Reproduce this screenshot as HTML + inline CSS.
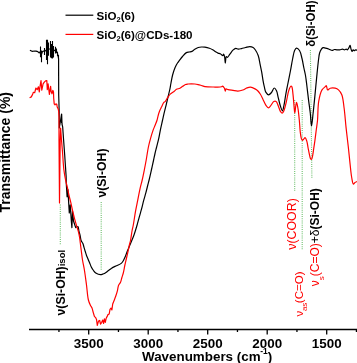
<!DOCTYPE html>
<html><head><meta charset="utf-8">
<style>
html,body{margin:0;padding:0;background:#fff;}
body{width:357px;height:363px;overflow:hidden;}
svg{display:block;will-change:transform;}
text{font-family:"Liberation Sans", sans-serif;}
.tk{font-size:13.4px;font-weight:bold;fill:#000;}
.lg{font-size:11.6px;font-weight:bold;fill:#000;}
.ax{font-size:13.4px;font-weight:bold;fill:#000;}
.ay{font-size:14px;font-weight:bold;fill:#000;}
.bk{font-size:12.3px;font-weight:bold;fill:#000;}
.rd{font-size:12px;fill:#f00;}
.rd3{font-size:12.4px;fill:#f00;}
.rd2{font-size:11.6px;fill:#f00;}
</style></head><body>
<svg width="357" height="363" viewBox="0 0 357 363">
<g stroke="#6cbf6c" stroke-width="1.1" stroke-dasharray="1 1.15" fill="none">
<line x1="60.3" y1="204.5" x2="60.3" y2="244.7"/>
<line x1="101.2" y1="202" x2="101.2" y2="270"/>
<line x1="294.7" y1="100" x2="294.7" y2="191"/>
<line x1="302.2" y1="100" x2="302.2" y2="250"/>
<line x1="310.4" y1="50" x2="311.9" y2="178.5"/>
</g>
<path d="M29.90,50.30 L32.00,51.30 L34.80,51.00 L36.00,51.20 L37.80,51.60 L39.10,52.90 L40.00,52.00 L41.20,55.00 L42.50,51.50 L43.50,51.00 L44.40,51.50 L46.40,50.00 L47.50,52.00 L48.70,49.00 L50.20,49.00 L51.30,50.00 L52.30,49.00 L53.60,51.00 L55.20,50.00 L56.50,51.00 L57.60,54.00 L58.30,57.00 L58.60,59.00 L58.60,66.00 L58.70,95.00 L59.20,112.00 L59.30,128.00 L61.60,114.00 L62.00,124.00 L62.70,127.20 L63.60,140.00 L64.70,155.00 L65.50,167.00 L66.10,176.00 L66.30,184.00 L67.10,196.80 L67.90,189.60 L69.30,212.90 L70.20,204.80 L71.40,222.00 L71.90,227.60 L72.50,211.00 L73.50,221.00 L75.70,227.60 C76.43,227.23 77.36,226.24 77.90,226.50 C78.67,226.87 78.61,229.95 79.00,231.50 C79.35,232.86 79.76,233.91 80.10,235.30 C80.50,236.96 80.61,239.33 81.20,240.80 C81.64,241.91 82.45,242.48 82.90,243.50 C83.41,244.65 83.63,246.13 84.00,247.40 C84.36,248.63 84.71,249.73 85.10,251.00 C85.54,252.42 86.00,254.18 86.50,255.50 C86.91,256.59 87.35,257.35 87.80,258.40 C88.34,259.65 88.93,261.10 89.50,262.50 C90.10,263.96 90.60,265.62 91.30,267.00 C91.95,268.27 92.67,269.44 93.50,270.50 C94.31,271.53 95.10,272.61 96.20,273.30 C97.37,274.04 99.16,274.66 100.40,274.70 C101.37,274.73 102.12,274.35 103.00,274.00 C103.99,273.61 105.07,273.00 106.00,272.40 C106.90,271.83 107.62,271.16 108.50,270.50 C109.48,269.77 110.41,268.94 111.60,268.20 C113.02,267.32 114.88,266.51 116.50,265.70 C118.08,264.91 120.02,264.36 121.20,263.40 C122.15,262.63 122.66,261.73 123.30,260.70 C124.04,259.51 124.66,258.09 125.30,256.60 C126.03,254.89 126.66,252.87 127.40,251.00 C128.16,249.10 129.04,247.12 129.80,245.30 C130.50,243.63 131.12,242.16 131.80,240.50 C132.52,238.73 133.25,237.12 134.00,235.00 C135.00,232.18 136.18,228.17 137.10,225.00 C137.92,222.17 138.56,219.56 139.30,216.90 C140.02,214.30 140.79,211.86 141.50,209.20 C142.26,206.37 142.94,203.23 143.70,200.40 C144.41,197.74 145.22,195.27 145.90,192.70 C146.58,190.14 147.22,187.29 147.80,185.00 C148.27,183.15 148.62,181.96 149.10,180.00 C149.78,177.24 150.65,173.34 151.40,170.00 C152.15,166.67 152.95,162.98 153.60,160.00 C154.12,157.60 154.51,155.62 155.00,153.50 C155.48,151.46 155.95,149.69 156.50,147.50 C157.16,144.85 158.05,141.64 158.70,138.70 C159.35,135.78 159.77,132.92 160.40,129.90 C161.07,126.69 162.01,122.69 162.60,120.00 C163.00,118.15 163.18,117.14 163.60,115.30 C164.21,112.64 165.25,108.74 166.00,105.60 C166.71,102.65 167.35,99.77 168.00,97.00 C168.61,94.41 169.30,91.87 169.80,89.50 C170.25,87.39 170.48,85.67 170.90,83.50 C171.40,80.91 171.88,77.73 172.60,75.00 C173.29,72.37 174.17,69.55 175.10,67.40 C175.84,65.70 176.71,64.22 177.50,63.00 C178.11,62.05 178.61,61.50 179.30,60.60 C180.21,59.41 181.34,57.82 182.50,56.50 C183.70,55.15 185.10,53.31 186.40,52.60 C187.33,52.09 188.27,52.20 189.20,52.00 C190.13,51.80 191.11,51.82 192.00,51.40 C192.99,50.94 193.79,49.84 194.80,49.20 C195.85,48.54 197.05,47.87 198.20,47.50 C199.28,47.16 200.39,47.05 201.50,47.00 C202.62,46.95 203.70,47.02 204.90,47.20 C206.30,47.41 208.04,47.83 209.40,48.30 C210.61,48.72 211.61,49.21 212.70,49.80 C213.85,50.43 215.12,51.40 216.10,52.00 C216.82,52.44 217.32,52.80 218.00,53.10 C218.71,53.41 219.54,53.42 220.30,53.80 C221.18,54.24 222.35,55.85 222.90,55.70 C223.31,55.59 223.35,54.10 223.60,54.10 C223.91,54.10 224.34,55.55 224.60,56.60 C225.01,58.26 225.02,63.19 225.30,63.20 C225.58,63.21 225.64,56.88 226.30,56.60 C226.60,56.47 226.99,57.46 227.40,57.40 C228.11,57.29 229.00,55.26 229.90,54.10 C230.92,52.78 232.09,50.91 233.20,49.90 C234.03,49.15 234.84,48.41 235.70,48.30 C236.51,48.19 237.30,49.03 238.20,49.10 C239.22,49.18 240.35,48.84 241.50,48.60 C242.80,48.33 244.22,47.83 245.60,47.50 C246.99,47.17 248.49,46.56 249.80,46.60 C250.97,46.63 252.17,46.93 253.10,47.50 C254.03,48.07 254.66,48.94 255.40,50.00 C256.39,51.43 257.46,53.43 258.20,55.50 C259.07,57.93 259.42,61.03 260.00,63.80 C260.58,66.56 261.20,69.34 261.70,72.10 C262.20,74.84 262.53,77.69 263.00,80.30 C263.43,82.70 263.89,85.11 264.40,87.20 C264.83,88.98 265.01,90.79 265.80,92.10 C266.49,93.25 267.64,94.75 268.60,94.80 C269.54,94.85 270.63,93.49 271.50,92.50 C272.54,91.32 273.29,88.07 274.20,88.00 C274.96,87.94 275.88,89.56 276.50,90.80 C277.39,92.56 277.67,95.46 278.30,97.90 C278.97,100.51 279.60,103.68 280.40,106.00 C281.04,107.84 281.91,110.85 282.50,110.80 C283.12,110.75 283.53,107.31 284.00,105.10 C284.65,102.08 285.18,97.76 285.80,94.30 C286.38,91.08 286.93,88.41 287.60,85.00 C288.42,80.81 289.54,75.49 290.40,71.00 C291.20,66.85 291.84,62.65 292.60,59.00 C293.25,55.91 293.67,52.37 294.60,50.50 C295.14,49.41 295.75,48.29 296.50,48.20 C297.35,48.10 298.68,49.32 299.50,50.50 C300.73,52.25 301.28,55.70 302.00,58.50 C302.77,61.51 303.28,65.02 303.90,68.00 C304.45,70.65 305.04,72.83 305.50,75.50 C306.02,78.52 306.35,81.60 306.80,85.20 C307.37,89.70 307.99,95.54 308.60,100.40 C309.16,104.88 309.82,109.01 310.30,113.30 C310.78,117.55 311.03,125.99 311.50,126.00 C311.97,126.01 312.58,117.81 313.10,113.30 C313.69,108.19 314.24,102.55 314.80,96.90 C315.40,90.85 315.98,84.31 316.60,78.10 C317.21,72.01 317.89,64.62 318.50,60.00 C318.88,57.12 319.02,54.93 319.60,53.00 C320.04,51.54 320.64,50.25 321.30,49.30 C321.81,48.57 322.31,47.80 323.00,47.60 C323.73,47.39 324.67,47.96 325.60,48.20 C326.68,48.48 327.99,48.82 329.10,49.20 C330.15,49.56 331.17,50.40 332.10,50.40 C332.92,50.40 333.61,49.60 334.40,49.50 C335.18,49.40 335.96,49.75 336.80,49.80 C337.72,49.86 338.74,49.90 339.70,49.80 C340.67,49.70 341.75,49.15 342.60,49.20 C343.28,49.24 343.80,49.80 344.40,49.80 C345.00,49.80 345.67,49.16 346.20,49.20 C346.65,49.23 347.01,49.90 347.40,49.80 C347.98,49.65 348.63,48.19 349.10,47.40 C349.51,46.69 349.82,45.27 350.10,45.30 C350.44,45.34 350.56,47.55 350.90,48.60 C351.23,49.61 351.67,51.46 352.10,51.50 C352.45,51.53 352.78,49.87 353.20,49.80 C353.56,49.74 354.00,50.70 354.40,50.70 C354.80,50.70 355.13,49.88 355.60,49.80 C356.14,49.71 356.87,50.20 357.50,50.40" fill="none" stroke="#000" stroke-width="1.2" stroke-linejoin="round"/>
<path d="M61.5,114V123 M40.5,46.5V57.3 M41.5,50.5V62.2 M44.5,48.1V55.1 M46.5,39.8V60 M47.5,39.8V64.3 M48.5,42.5V55.8 M50.5,41V57.5 M51.5,44V58.3 M52.5,41V58.5 M53.5,46V57.5 M55.5,46.8V53.4 M56.5,48.5V53 M57.5,52V56 M58.5,55V58.7" stroke="#000" stroke-width="1.1" fill="none"/>
<path d="M29.60,97.70 L31.30,96.90 L32.60,94.40 L33.40,92.30 L34.70,92.70 L35.90,88.00 L37.20,89.70 L38.40,86.80 L39.30,91.80 L40.10,86.00 L41.00,80.50 L41.80,90.20 L43.10,83.90 L44.30,82.20 L45.60,80.90 L46.80,80.50 L47.30,89.70 L48.10,83.90 L49.40,94.40 L50.60,86.40 L51.10,91.20 L52.00,93.80 L52.80,90.30 L53.50,92.00 L53.70,98.20 L54.20,103.90 L55.00,104.80 L55.90,103.90 L56.80,104.30 L57.20,107.00 L58.10,108.70 L58.70,111.40 L59.00,117.00 L59.00,140.00 L59.50,203.00 L60.20,140.00 L60.60,128.00 L61.50,140.00 L62.50,152.00 C62.97,158.00 63.26,164.79 63.90,170.00 C64.40,174.04 65.03,177.50 65.70,180.70 C66.25,183.35 66.96,185.50 67.50,187.90 C68.03,190.27 68.37,192.64 68.90,195.00 C69.43,197.37 70.13,199.66 70.70,202.10 C71.30,204.66 71.77,207.30 72.40,210.00 C73.06,212.86 73.84,215.97 74.60,218.80 C75.31,221.46 76.10,224.15 76.80,226.50 C77.39,228.49 78.03,230.15 78.50,232.00 C78.96,233.82 79.30,235.66 79.60,237.50 C79.90,239.33 80.05,241.06 80.30,243.00 C80.58,245.19 80.87,247.46 81.20,250.00 C81.59,253.04 81.97,256.67 82.50,260.00 C83.03,263.34 83.79,266.32 84.40,270.00 C85.14,274.49 85.83,280.00 86.50,285.00 C87.17,290.00 87.47,296.27 88.40,300.00 C88.98,302.33 89.79,304.05 90.50,305.50 C91.00,306.52 91.58,307.02 92.00,308.00 C92.52,309.21 92.80,310.88 93.20,312.30 C93.60,313.68 94.00,315.03 94.40,316.40 L95.60,317.60 L96.50,319.40 L97.30,325.30 L98.50,321.10 L99.70,320.50 L100.50,324.10 L101.70,322.30 L102.70,320.00 L103.60,323.50 L104.40,318.80 L105.30,322.30 L106.20,318.20 L107.20,316.40 L108.00,314.60 L109.20,314.00 L110.00,309.30 L111.00,308.10 L111.90,309.90 L112.70,304.00 L113.90,301.00 C114.50,299.43 115.13,297.97 115.70,296.30 C116.34,294.43 117.02,292.20 117.50,290.30 C117.93,288.62 117.94,286.87 118.50,285.50 C118.97,284.33 119.87,283.67 120.40,282.50 C121.05,281.08 121.40,279.12 121.90,277.50 C122.37,275.96 122.86,274.73 123.30,273.00 C123.88,270.73 124.36,267.52 124.90,265.00 C125.39,262.72 125.89,260.74 126.40,258.50 C126.95,256.09 127.57,253.41 128.10,251.00 C128.60,248.76 129.05,246.47 129.50,244.50 C129.88,242.86 130.24,241.80 130.60,240.00 C131.14,237.33 131.68,232.76 132.20,230.00 C132.57,228.04 132.90,227.08 133.30,225.00 C133.95,221.58 134.72,215.69 135.50,211.40 C136.20,207.53 136.95,204.15 137.70,200.40 C138.48,196.46 139.28,191.94 140.10,188.30 C140.78,185.26 141.53,182.90 142.20,180.00 C142.93,176.83 143.63,173.34 144.30,170.00 C144.97,166.67 145.57,163.52 146.20,160.00 C146.90,156.07 147.51,151.29 148.30,147.50 C148.97,144.30 149.69,141.62 150.50,138.70 C151.32,135.76 152.31,132.39 153.20,129.90 C153.87,128.01 154.55,126.65 155.20,125.00 C155.85,123.35 156.53,121.81 157.10,120.00 C157.75,117.92 158.12,115.25 158.80,113.20 C159.38,111.44 160.23,109.65 160.80,108.40 C161.17,107.58 161.41,107.17 161.80,106.40 C162.33,105.33 163.01,103.41 163.70,102.60 C164.14,102.08 164.62,102.11 165.10,101.60 C165.89,100.77 166.71,98.97 167.60,97.70 C168.51,96.41 169.37,94.99 170.50,93.90 C171.61,92.83 173.22,92.05 174.30,91.20 C175.15,90.53 175.63,89.79 176.50,89.30 C177.46,88.76 178.85,88.71 179.90,88.20 C180.92,87.70 181.76,86.92 182.70,86.30 C183.63,85.69 184.55,84.88 185.50,84.50 C186.35,84.16 187.18,84.12 188.10,84.00 C189.13,83.87 190.29,83.80 191.40,83.80 C192.52,83.80 193.68,83.87 194.80,84.00 C195.91,84.13 197.01,84.35 198.10,84.60 C199.21,84.85 200.28,85.18 201.40,85.50 C202.58,85.84 203.53,86.34 205.00,86.60 C207.20,86.98 210.62,86.97 213.40,87.00 C216.12,87.03 220.13,87.25 221.50,86.80 C222.03,86.62 222.14,86.06 222.50,86.10 C223.03,86.15 223.84,87.23 224.30,88.00 C224.81,88.86 225.00,91.10 225.30,91.10 C225.55,91.10 225.52,89.14 226.00,88.90 C226.47,88.66 227.24,89.39 228.10,89.60 C229.38,89.92 231.37,90.15 233.00,90.40 C234.63,90.65 236.27,91.16 237.90,91.10 C239.54,91.04 241.26,90.55 242.80,90.00 C244.29,89.47 245.63,88.37 247.00,87.90 C248.19,87.49 249.28,87.10 250.50,87.20 C251.92,87.32 253.73,88.23 255.00,88.90 C256.06,89.46 256.86,89.99 257.70,90.80 C258.68,91.73 259.56,92.96 260.40,94.30 C261.38,95.86 262.20,97.90 263.10,99.70 C264.00,101.50 264.79,103.67 265.80,105.10 C266.60,106.23 267.52,107.79 268.40,107.80 C269.29,107.81 270.23,106.10 271.10,105.10 C272.04,104.02 272.80,102.00 273.80,101.50 C274.52,101.14 275.44,101.09 276.10,101.50 C277.07,102.11 277.61,104.42 278.30,106.00 C279.05,107.70 279.58,110.14 280.40,111.40 C280.95,112.24 281.63,113.26 282.20,113.20 C282.84,113.14 283.45,111.72 284.00,110.50 C284.94,108.43 285.64,104.64 286.40,101.50 C287.22,98.10 287.77,93.57 288.70,90.80 C289.33,88.94 290.10,86.64 290.80,86.30 C291.10,86.15 291.44,86.22 291.70,86.50 C292.47,87.31 292.63,91.38 293.00,94.30 C293.47,97.99 293.75,103.46 294.10,106.90 C294.34,109.30 294.53,113.00 294.80,113.00 C295.11,113.00 295.52,107.03 295.90,105.10 C296.13,103.96 296.34,102.40 296.60,102.40 C297.00,102.41 297.59,106.23 298.00,108.70 C298.57,112.15 299.02,117.23 299.40,121.20 C299.74,124.80 299.84,128.42 300.20,131.50 C300.50,134.04 300.77,136.79 301.30,138.40 C301.61,139.34 301.97,140.44 302.40,140.50 C302.78,140.55 303.25,139.56 303.70,139.10 C304.15,138.63 304.66,137.63 305.10,137.70 C305.71,137.80 306.34,139.73 306.80,141.10 C307.43,142.96 307.65,145.70 308.10,148.00 C308.55,150.30 309.02,152.93 309.50,154.90 C309.86,156.39 310.06,158.14 310.60,158.80 C310.88,159.14 311.32,159.42 311.60,159.30 C312.06,159.10 312.22,157.52 312.50,156.30 C312.92,154.48 313.22,151.89 313.60,149.40 C314.05,146.46 314.55,143.11 315.00,139.80 C315.48,136.26 315.96,132.21 316.40,128.80 C316.78,125.84 317.17,123.84 317.50,120.50 C317.99,115.45 317.75,106.92 318.70,101.40 C319.45,97.04 320.49,92.46 322.00,89.90 C322.94,88.30 324.52,87.38 325.30,86.60 C325.73,86.17 326.00,85.52 326.30,85.60 C326.84,85.73 326.83,89.62 327.60,89.90 C328.24,90.13 329.14,88.52 330.20,88.20 C331.55,87.80 333.74,87.85 335.20,88.20 C336.46,88.50 337.50,89.01 338.50,89.90 C339.76,91.02 340.94,92.65 341.80,94.80 C343.10,98.03 343.43,103.14 344.10,108.00 C344.92,113.94 345.38,121.28 346.10,127.90 C346.82,134.51 347.71,141.39 348.40,147.70 C349.03,153.47 349.52,159.09 350.10,164.30 C350.62,168.95 351.02,173.87 351.70,177.50 C352.19,180.10 352.62,183.90 353.40,184.10 C353.86,184.22 354.35,182.84 355.00,182.40 C355.70,181.92 356.67,181.73 357.50,181.40" fill="none" stroke="#f00" stroke-width="1.2" stroke-linejoin="round"/>
<line x1="29" y1="329.5" x2="357" y2="329.5" stroke="#000" stroke-width="1.3"/>
<line x1="58.95" y1="329" x2="58.95" y2="332" stroke="#000" stroke-width="1.3"/>
<line x1="88.70" y1="329" x2="88.70" y2="334.5" stroke="#000" stroke-width="1.3"/>
<text x="88.70" y="347.6" text-anchor="middle" class="tk">3500</text>
<line x1="118.45" y1="329" x2="118.45" y2="332" stroke="#000" stroke-width="1.3"/>
<line x1="148.20" y1="329" x2="148.20" y2="334.5" stroke="#000" stroke-width="1.3"/>
<text x="148.20" y="347.6" text-anchor="middle" class="tk">3000</text>
<line x1="177.95" y1="329" x2="177.95" y2="332" stroke="#000" stroke-width="1.3"/>
<line x1="207.70" y1="329" x2="207.70" y2="334.5" stroke="#000" stroke-width="1.3"/>
<text x="207.70" y="347.6" text-anchor="middle" class="tk">2500</text>
<line x1="237.45" y1="329" x2="237.45" y2="332" stroke="#000" stroke-width="1.3"/>
<line x1="267.20" y1="329" x2="267.20" y2="334.5" stroke="#000" stroke-width="1.3"/>
<text x="267.20" y="347.6" text-anchor="middle" class="tk">2000</text>
<line x1="296.95" y1="329" x2="296.95" y2="332" stroke="#000" stroke-width="1.3"/>
<line x1="326.70" y1="329" x2="326.70" y2="334.5" stroke="#000" stroke-width="1.3"/>
<text x="326.70" y="347.6" text-anchor="middle" class="tk">1500</text>
<line x1="356.45" y1="329" x2="356.45" y2="332" stroke="#000" stroke-width="1.3"/>
<line x1="65.5" y1="15.2" x2="93.3" y2="15.2" stroke="#000" stroke-width="1.2"/>
<line x1="65.5" y1="34.4" x2="93.3" y2="34.4" stroke="#f00" stroke-width="1.2"/>
<text x="96.5" y="19.7" class="lg">SiO<tspan font-size="7.5px" dy="2.5">2</tspan><tspan dy="-2.5">(6)</tspan></text>
<text x="96.5" y="38.7" class="lg">SiO<tspan font-size="7.5px" dy="2.5">2</tspan><tspan dy="-2.5">(6)@CDs-180</tspan></text>
<text x="142" y="360.7" class="ax">Wavenumbers (cm<tspan font-size="8.5px" dy="-6.8" dx="-0.3">-1</tspan><tspan dy="6.8">)</tspan></text>
<text transform="translate(10,212.6) rotate(-90)" class="ay" >Transmittance (%)</text>
<text transform="translate(105.7,197.6) rotate(-90)" class="bk" >ν(Si-OH)</text>
<text transform="translate(65,315.5) rotate(-90)" class="bk" >ν(Si-OH)<tspan font-size="9.5px">isol</tspan></text>
<text transform="translate(314.7,46.8) rotate(-90) scale(0.93,1)" class="bk">δ(Si-OH)</text>
<text transform="translate(296,249.8) rotate(-90)" class="rd3" >ν(COOR)</text>
<text transform="translate(302.8,316.6) rotate(-90)" class="rd2" >ν<tspan font-size="8px" dy="4.5" dx="-0.3">as</tspan><tspan dy="-4.5" dx="-0.5">(C=O)</tspan></text>
<text transform="translate(319,286.2) rotate(-90)" class="rd" >ν<tspan font-size="8px" dy="4.5">s</tspan><tspan dy="-4.5">(C=O)</tspan><tspan fill="#000">+δ<tspan font-weight="bold">(Si-OH)</tspan></tspan></text>
</svg>
</body></html>
